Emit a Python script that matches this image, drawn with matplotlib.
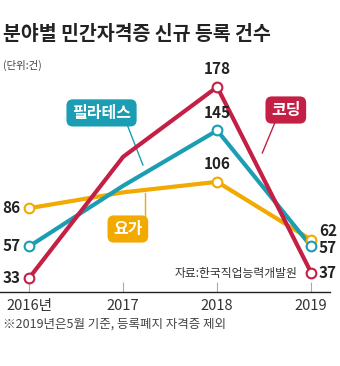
import matplotlib
matplotlib.use("Agg")
import matplotlib.pyplot as plt

plt.rcParams['font.family'] = ['Noto Sans CJK KR', 'DejaVu Sans']

# data (건)
years = [2016, 2017, 2018, 2019]
year_labels = ['2016년', '2017', '2018', '2019']
coding = [33, 125, 178, 37]
pilates = [57, 103, 145, 57]
yoga = [86, 98, 106, 62]

red = '#c41f45'
teal = '#1b9db3'
orange = '#f2a900'

fig = plt.figure(figsize=(3.4, 3.66), dpi=100)
ax = fig.add_axes([0.0, 0.2022, 330 / 340, 0.593])
ax.set_xlim(2015.69, 2019.20)
ax.set_ylim(22.4, 187.1)

series = [(yoga, orange), (pilates, teal), (coding, red)]
for vals, col in series:
    ax.plot(years, vals, color=col, lw=3, solid_capstyle='round', zorder=3)
    # hollow markers only at 2016, 2018, 2019
    mx = [years[i] for i in (0, 2, 3)]
    my = [vals[i] for i in (0, 2, 3)]
    ax.plot(mx, my, 'o', ms=7, mfc='white', mec=col, mew=1.5, zorder=4,
            clip_on=False)

# value labels
lab_kw = dict(fontsize=11, color='#222', fontweight='bold')
for vals in (coding, pilates, yoga):
    ax.annotate(str(vals[0]), (years[0], vals[0]), xytext=(-6, 0),
                textcoords='offset points', ha='right', va='center', **lab_kw)
    ax.annotate(str(vals[2]), (years[2], vals[2]), xytext=(0, 7),
                textcoords='offset points', ha='center', va='bottom', **lab_kw)

# right-side labels, nudged apart where they crowd
right_dy = {'coding': 0, 'pilates': -1.5, 'yoga': 6}
for name, vals in (('coding', coding), ('pilates', pilates), ('yoga', yoga)):
    ax.annotate(str(vals[3]), (years[3], vals[3]), xytext=(5.5, right_dy[name]),
                textcoords='offset points', ha='left', va='center', **lab_kw)

# callout boxes
def callout(text, col, box_xy, tip_from, tip_to):
    ax.plot([tip_from[0], tip_to[0]], [tip_from[1], tip_to[1]], color=col,
            lw=1.0, zorder=2)
    ax.text(box_xy[0], box_xy[1], text, color='white', fontsize=11.5,
            fontweight='bold', ha='center', va='center', zorder=5,
            bbox=dict(boxstyle='round,pad=0.35,rounding_size=0.4', fc=col,
                      ec='none'))

callout('필라테스', teal, (2016.77, 158.3), (2017.05, 148), (2017.21, 118.8))
callout('요가', orange, (2017.05, 70.2), (2017.23, 97.5), (2017.23, 78))
callout('코딩', red, (2018.73, 160.5), (2018.62, 152), (2018.48, 127.9))

ax.text(2018.85, 36.8, '자료:한국직업능력개발원', fontsize=8.5, color='#333',
        ha='right', va='center')

for s in ('top', 'right', 'left'):
    ax.spines[s].set_visible(False)
ax.spines['bottom'].set_color('#222')
ax.spines['bottom'].set_linewidth(1)
ax.set_yticks([])
ax.set_xticks(years)
ax.set_xticklabels(year_labels)
ax.tick_params(axis='x', direction='in', length=7, color='#aaa', pad=5,
               labelsize=10.5, labelcolor='#333')
ax.set_facecolor('none')

fig.text(0.01, 1 - 35 / 366, '분야별 민간자격증 신규 등록 건수', fontsize=14,
         fontweight='bold', color='#222', ha='left', va='center')
fig.text(0.01, 1 - 65 / 366, '(단위:건)', fontsize=7.5, color='#444',
         ha='left', va='center')
fig.text(0.01, 1 - 324 / 366, '※2019년은5월 기준, 등록폐지 자격증 제외',
         fontsize=9, color='#444', ha='left', va='center')

fig.savefig('out.png', dpi=100)
